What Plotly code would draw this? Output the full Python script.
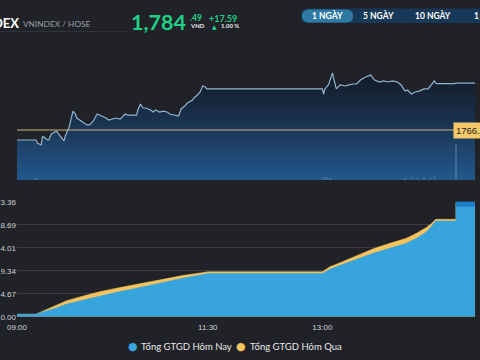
import plotly.graph_objects as go

# ---------------- data ----------------
DAY = "2025-08-25"
REF_PRICE = 1766.90
LAST_PRICE = "1,784"
LAST_DEC = ".49"
CHANGE = "+17.59"
CHANGE_PCT = "1.00 %"

PRICE_TIMES = ["09:00", "09:15", "09:16", "09:19", "09:20", "09:21", "09:24", "09:25", "09:27", "09:31",
               "09:32", "09:37", "09:38", "09:41", "09:44", "09:46", "09:47", "09:50", "09:53", "09:55",
               "09:57", "10:00", "10:03", "10:05", "10:08", "10:10", "10:12", "10:15", "10:18", "10:21",
               "10:25", "10:27", "10:34", "10:35", "10:37", "10:39", "10:41", "10:45", "10:47", "10:49",
               "10:52", "10:55", "10:58", "11:00", "11:04", "11:07", "11:09", "11:11", "11:14", "11:18",
               "11:19", "11:21", "11:24", "11:26", "11:28", "11:29", "11:30",
               "13:00", "13:01", "13:02", "13:05", "13:07", "13:08", "13:09", "13:11", "13:14", "13:18",
               "13:21", "13:24", "13:27", "13:30", "13:34", "13:38", "13:41", "13:45", "13:48", "13:52",
               "13:55", "13:59", "14:02", "14:05", "14:07", "14:10", "14:13", "14:16", "14:20", "14:23",
               "14:25", "14:28", "14:29", "14:30", "14:44", "14:45", "15:00"]
PRICES = [1763.15, 1763.15, 1762.0, 1761.3, 1764.3, 1764.3, 1763.15, 1763.15, 1765.4, 1766.5,
          1765.8, 1762.8, 1764.65, 1768.0, 1774.0, 1772.9, 1771.4, 1770.3, 1769.5, 1768.8,
          1768.8, 1770.3, 1772.9, 1772.5, 1771.8, 1771.4, 1770.65, 1771.0, 1771.4, 1771.0,
          1772.9, 1772.5, 1772.5, 1774.4, 1776.65, 1775.15, 1775.15, 1774.4, 1773.65, 1774.4,
          1773.65, 1774.0, 1773.65, 1772.9, 1772.5, 1772.15, 1774.8, 1775.5, 1777.0, 1778.15,
          1778.9, 1779.65, 1781.15, 1783.4, 1783.0, 1782.3, 1782.3,
          1782.3, 1780.4, 1782.3, 1784.0, 1787.5, 1788.3, 1786.0, 1782.3, 1783.8, 1783.4,
          1783.8, 1784.15, 1784.15, 1785.65, 1786.8, 1787.5, 1785.65, 1784.9, 1785.3, 1784.9,
          1785.3, 1784.9, 1783.8, 1781.5, 1781.9, 1780.4, 1781.15, 1781.5, 1782.3, 1782.3,
          1783.4, 1785.3, 1784.5, 1784.3, 1784.3, 1784.49, 1784.49]

VOL_TIMES = ["09:15", "13:00", "13:02", "13:04", "13:06", "14:05", "14:10", "14:15", "14:20", "14:25", "14:28", "14:45"]
VOLUMES = [1.5, 2.0, 2.0, 2.0, 1.5, 1.5, 2.0, 2.0, 2.0, 2.5, 3.0, 26.0]

GT_TIMES = ["09:00", "09:15", "09:21", "09:29", "09:39", "09:52", "10:05", "10:18", "10:31", "10:45",
            "10:58", "11:11", "11:24", "11:30", "13:00", "13:06", "13:14", "13:27", "13:40", "13:53",
            "14:06", "14:14", "14:22", "14:26", "14:29", "14:45", "14:45", "15:00"]
GT_TODAY = [0.49, 0.49, 1.02, 1.63, 2.58, 3.39, 4.20, 4.95, 5.63, 6.44,
            7.19, 7.86, 8.47, 8.80, 8.80, 9.63, 10.44, 11.72, 12.88, 13.90,
            14.90, 15.93, 17.27, 18.42, 19.44, 19.44, 23.36, 23.36]
GT_YESTERDAY = [0.49, 0.49, 1.22, 2.17, 3.25, 4.20, 5.08, 5.77, 6.44, 7.05,
                7.80, 8.40, 8.88, 9.14, 9.14, 10.16, 10.97, 12.39, 13.81, 14.90,
                15.93, 16.94, 18.16, 18.97, 19.78, 19.78, 22.90, 22.90]

X_TICKS = ["09:00", "11:30", "13:00", "15:00"]
Y_TICKS = [0, 4.672, 9.344, 14.016, 18.688, 23.36]
Y_TICK_TEXT = ["0.00", "4.67", "9.34", "14.01", "18.69", "23.36"]

SERIES_NAMES = ["Tổng GTGD Hôm Nay", "Tổng GTGD Hôm Qua"]
RANGE_BUTTONS = ["1 NGÀY", "5 NGÀY", "10 NGÀY", "1 THÁNG"]

# ---------------- styling / layout helpers ----------------
W, H = 480, 360
ML, MR = 17, 5
PW = W - ML - MR
BG = "#202227"
GREEN = "#20cf86"
BLUE = "#37a4de"
YELLOW = "#f4c35e"


def ts(t):
    return f"{DAY} {t}"


def px(x):
    return (x - ML) / PW


def py(y):
    return 1 - y / H


def rrect(x0, y0, x1, y1, r):
    rx, ry = r / PW, r / H
    X0, X1 = px(x0), px(x1)
    Y0, Y1 = py(y0), py(y1)  # Y0 top, Y1 bottom
    return (f"M{X0+rx},{Y0} L{X1-rx},{Y0} Q{X1},{Y0} {X1},{Y0-ry} L{X1},{Y1+ry} "
            f"Q{X1},{Y1} {X1-rx},{Y1} L{X0+rx},{Y1} Q{X0},{Y1} {X0},{Y1+ry} "
            f"L{X0},{Y0-ry} Q{X0},{Y0} {X0+rx},{Y0} Z")


fig = go.Figure()

# price area
fig.add_trace(go.Scatter(
    x=[ts(t) for t in PRICE_TIMES], y=PRICES, mode="lines",
    line=dict(color="#8fb5cf", width=1.2),
    fill="tozeroy",
    fillgradient=dict(type="vertical",
                      colorscale=[[0, "#22598e"], [0.5, "#1b3656"], [1, "#141d2b"]],
                      start=1748.2, stop=1786.0),
    xaxis="x", yaxis="y", showlegend=False, hoverinfo="skip"))

# volume bars
fig.add_trace(go.Bar(
    x=[ts(t) for t in VOL_TIMES], y=VOLUMES, width=60000,
    marker=dict(color="rgba(120,150,180,0.4)", line=dict(width=0)),
    xaxis="x", yaxis="y3", showlegend=False, hoverinfo="skip"))

# trading value areas
fig.add_trace(go.Scatter(
    x=[ts(t) for t in GT_TIMES], y=GT_YESTERDAY, mode="lines", name=SERIES_NAMES[1],
    line=dict(color=YELLOW, width=0.5), fill="tozeroy", fillcolor=YELLOW,
    xaxis="x2", yaxis="y2", showlegend=False, hoverinfo="skip"))
fig.add_trace(go.Scatter(
    x=[ts(t) for t in GT_TIMES], y=GT_TODAY, mode="lines", name=SERIES_NAMES[0],
    line=dict(color=BLUE, width=0.5), fill="tozeroy", fillcolor=BLUE,
    xaxis="x2", yaxis="y2", showlegend=False, hoverinfo="skip"))
# darker cap on the final (ATC) segment
fig.add_trace(go.Scatter(
    x=[ts(t) for t in GT_TIMES[-2:]], y=GT_TODAY[-2:], mode="lines",
    line=dict(color="#1f7cc6", width=10),
    xaxis="x2", yaxis="y2", showlegend=False, hoverinfo="skip"))

xr = [ts("09:00"), ts("15:00")]
fig.update_layout(
    width=W, height=H,
    margin=dict(l=ML, r=MR, t=0, b=0, autoexpand=False),
    paper_bgcolor=BG, plot_bgcolor=BG,
    font=dict(family="Lato, Noto Sans, sans-serif", color="#e6e6e6"),
    xaxis=dict(type="date", range=xr, domain=[0, 1], anchor="y", visible=False, automargin=False),
    yaxis=dict(range=[1748.15, 1800.65], domain=[py(180), py(40)], visible=False, automargin=False),
    yaxis3=dict(range=[0, 100], overlaying="y", visible=False, automargin=False),
    xaxis2=dict(type="date", range=xr, domain=[0, 1], anchor="y2", automargin=False,
                tickvals=[ts(t) for t in X_TICKS], ticktext=X_TICKS,
                tickfont=dict(size=8, color="#d0d3d8", family="Liberation Sans"),
                showgrid=False, zeroline=False, showline=False,
                ticks="outside", ticklen=3, tickcolor=BG),
    yaxis2=dict(range=[0, 23.36], domain=[py(316.7), py(201.7)], anchor="x2", automargin=False,
                tickvals=Y_TICKS, ticktext=Y_TICK_TEXT,
                tickfont=dict(size=8, color="#d0d3d8", family="Liberation Sans"),
                showgrid=True, gridcolor="#393c42", gridwidth=1,
                zeroline=False, showline=False, ticks=""),
    bargap=0,
)

shapes = [
    # reference line
    dict(type="line", xref="paper", x0=0, x1=1, yref="y", y0=REF_PRICE, y1=REF_PRICE,
         line=dict(color="#cdb57c", width=1), layer="above"),
    # header separator
    dict(type="line", xref="paper", yref="paper", x0=px(0), x1=px(128), y0=py(31.5), y1=py(31.5),
         line=dict(color="#2f3238", width=1)),
    # button group background
    dict(type="path", xref="paper", yref="paper", path=rrect(301, 8.5, 500, 23, 7),
         fillcolor="#173856", line=dict(width=0)),
    dict(type="path", xref="paper", yref="paper", path=rrect(302, 9.5, 353, 22.5, 6.5),
         fillcolor="#2e7aa4", line=dict(width=0)),
]

ann = []


def text(x, y, s, size, color, anchor="left", bold=False, family="Lato"):
    ann.append(dict(xref="paper", yref="paper", x=px(x), y=py(y), text=(f"<b>{s}</b>" if bold else s),
                    showarrow=False, xanchor=anchor, yanchor="middle",
                    font=dict(size=size, color=color, family=family)))


# header
text(21, 23, "VNINDEX", 13, "#ffffff", anchor="right", bold=True)
text(20.5, 24, "VNINDEX / HOSE", 8.3, "#9a9fa7")
text(129, 22, LAST_PRICE, 21.5, GREEN, bold=True)
text(187.5, 17.5, LAST_DEC, 8.5, GREEN, bold=True)
text(187.5, 25.5, "VND", 6, "#e8e8e8", bold=True)
text(206.5, 18, CHANGE, 9, GREEN, bold=True)
text(209.5, 26.5, "▲", 6, GREEN, family="DejaVu Sans")
text(218.5, 26, CHANGE_PCT, 6, "#e8e8e8", bold=True)

# range buttons
btn_x = [327.5, 378.5, 432.5, 471.5]
for i, (lbl, bx) in enumerate(zip(RANGE_BUTTONS, btn_x)):
    text(bx, 16, lbl, 8.5, "#ffffff", anchor=("left" if i == 3 else "center"), bold=True)

# reference price label
ann.append(dict(xref="paper", yref="y", x=px(453), y=REF_PRICE, text=f"{REF_PRICE:.2f}",
                showarrow=False, xanchor="left", yanchor="middle",
                bgcolor="#f5c869", borderpad=2,
                font=dict(size=9.5, color="#1f1f1f", family="Liberation Sans")))

# legend
text(133, 346.5, "●", 11, BLUE, anchor="center", family="DejaVu Sans")
text(139, 346.5, SERIES_NAMES[0], 9.5, "#e8e8e8")
text(241, 346.5, "●", 11, YELLOW, anchor="center", family="DejaVu Sans")
text(248, 346.5, SERIES_NAMES[1], 9.5, "#e8e8e8")

fig.update_layout(shapes=shapes, annotations=ann)
fig.write_html(
    "out.html",
    config={"displayModeBar": False},
    post_script=f"document.body.style.margin='0';document.body.style.overflow='hidden';"
                f"document.body.style.background='{BG}';",
)
